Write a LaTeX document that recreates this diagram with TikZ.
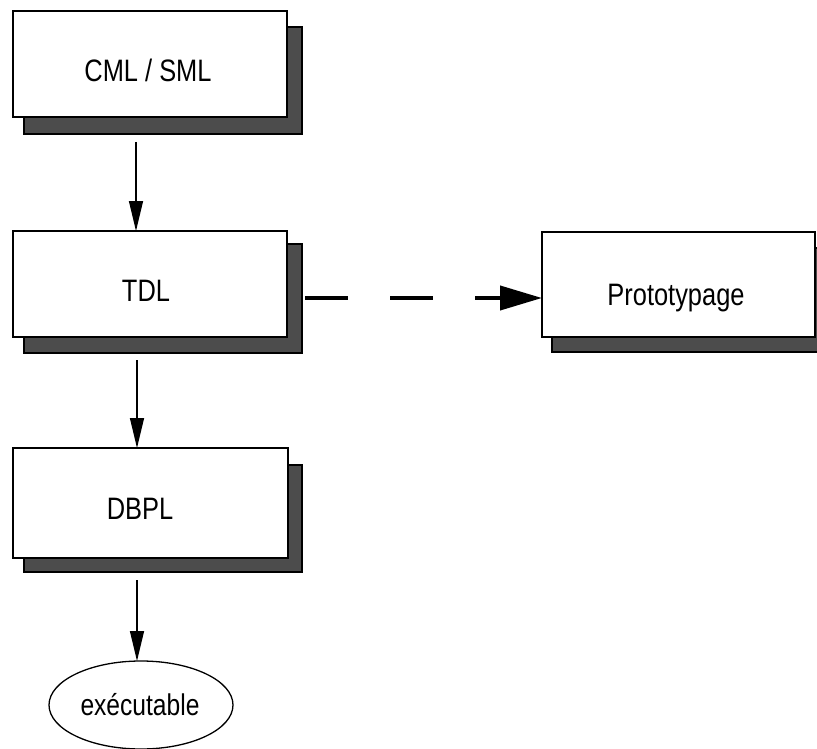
\documentclass[tikz,border=0pt]{standalone}
\usepackage{fontspec}
\setmainfont[FakeStretch=0.82]{Liberation Sans}
\usetikzlibrary{arrows.meta,calc,shapes.geometric}
\begin{document}
\begin{tikzpicture}[x=1pt,y=-1pt,
  shadowbox/.style={draw=black,line width=1.2pt,fill=black!70,inner sep=0pt,outer sep=0pt},
  mainbox/.style={draw=black,line width=1.3pt,fill=white,inner sep=0pt,outer sep=0pt},
  lbl/.style={font=\fontsize{31}{34}\selectfont,anchor=base,inner sep=0pt},
  arr/.style={line width=1.4pt,-{Triangle[length=30pt,width=14pt]}},
  dasharr/.style={line width=4pt,dash pattern=on 43pt off 42pt,-{Triangle[length=42pt,width=24pt]}}]
\useasboundingbox (0,0) rectangle (817,749);
\clip (0,0) rectangle (817,749);
% shadows
\draw[shadowbox] (24,27) rectangle (302,134);
\draw[shadowbox] (24,244) rectangle (302,353);
\draw[shadowbox] (24,465) rectangle (302,572);
\draw[shadowbox] (552,248) rectangle (832,352);
% boxes
\node[mainbox,minimum width=274pt,minimum height=106pt] (cml) at (150,64) {};
\node[mainbox,minimum width=274pt,minimum height=106pt] (tdl) at (150,284) {};
\node[mainbox,minimum width=275pt,minimum height=110pt] (dbpl) at (150.5,503) {};
\node[mainbox,minimum width=273pt,minimum height=105pt] (proto) at (678.5,284.5) {};
\node[draw=black,line width=1.3pt,ellipse,minimum width=184pt,minimum height=88pt,inner sep=0pt,outer sep=0pt] (exe) at (141,705) {};
% labels
\node[lbl] (tcml) at (148,82) {CML / SML};
\node[lbl] (ttdl) at (146,301) {TDL};
\node[lbl] (tdbpl) at (140,519) {DBPL};
\node[lbl] (tproto) at (676,305) {Prototypage};
\node[lbl,font=\fontsize{30}{33}\selectfont] (texe) at (140,715) {exécutable};
% connectors
\draw[arr] ($(cml.south)+(-14,25)$) -- ($(tdl.north)+(-14,0)$);
\draw[arr] ($(tdl.south)+(-13,23)$) -- ($(dbpl.north)+(-13.5,0)$);
\draw[arr] ($(dbpl.south)+(-13.5,22)$) -- (exe.north -| 137,0);
\draw[dasharr] ($(tdl.east)+(18,14)$) -- (proto.west |- 0,298);
\end{tikzpicture}
\end{document}
